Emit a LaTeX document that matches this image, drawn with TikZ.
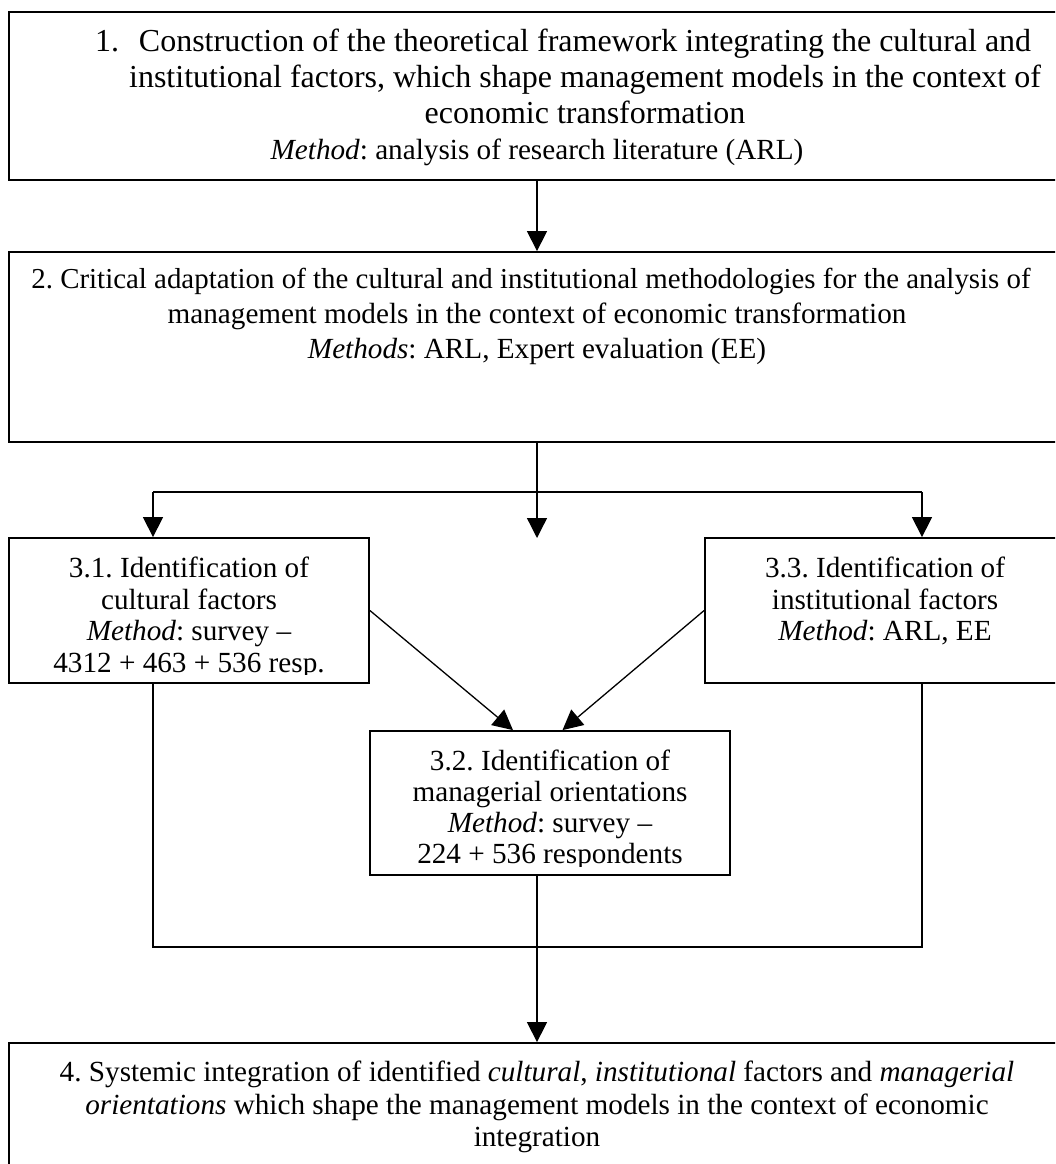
\documentclass[tikz,border=0pt]{standalone}
\usepackage{fontspec}
\setmainfont{Liberation Serif}
\usetikzlibrary{arrows.meta,fit}

\begin{document}
\frenchspacing
\begin{tikzpicture}[x=1pt,y=-1pt,
  box/.style={draw, line width=1.8pt, inner sep=0pt},
  txt/.style={inner sep=0pt, anchor=base, font=\fontsize{29.2}{34}\selectfont},
  bigtxt/.style={txt, font=\fontsize{32}{37}\selectfont},
  link/.style={line width=1.3pt},
  arr/.style={link, -{Triangle[length=20pt,width=20pt]}}
]
\useasboundingbox (0,0) rectangle (1055,1164);
\clip (0,0) rectangle (1055,1164);

% boxes
\node[box, fit={(9,12) (1065,180)}] (b1) {};
\node[box, fit={(9,252) (1065,442)}] (b2) {};
\node[box, fit={(9,538) (369,683)}] (b31) {};
\node[box, fit={(705,538) (1065,683)}] (b33) {};
\node[box, fit={(370,731) (730,875)}] (b32) {};
\node[box, fit={(9,1043) (1065,1200)}] (b4) {};

% step 1
\node[bigtxt, anchor=base west] (t1n) at (95,51.7) {1.};
\node[bigtxt] (t1a) at (585,51.7) {Construction of the theoretical framework integrating the cultural and};
\node[bigtxt] (t1b) at (585,87.7) {institutional factors, which shape management models in the context of};
\node[bigtxt] (t1c) at (585,123.6) {economic transformation};
\node[txt] (t1d) at (537,159.3) {\textit{Method}: analysis of research literature (ARL)};

% step 2
\node[txt, font=\fontsize{28.9}{34}\selectfont] (t2a) at (531,288.5) {2. Critical adaptation of the cultural and institutional methodologies for the analysis of};
\node[txt] (t2b) at (537,323.5) {management models in the context of economic transformation};
\node[txt] (t2c) at (537,358.5) {\textit{Methods}: ARL, Expert evaluation (EE)};

% step 3.1 (last line cut off by the text frame)
\begin{scope}
  \clip (9,538) rectangle (369,674);
  \node[txt] (t31a) at (189,577.5) {3.1. Identification of};
  \node[txt] (t31b) at (189,609) {cultural factors};
  \node[txt] (t31c) at (189,640.5) {\textit{Method}: survey –};
  \node[txt] (t31d) at (189,672) {4312 + 463 + 536 resp.};
\end{scope}

% step 3.3
\node[txt] (t33a) at (885,577.5) {3.3. Identification of};
\node[txt] (t33b) at (885,609) {institutional factors};
\node[txt] (t33c) at (885,640.5) {\textit{Method}: ARL, EE};

% step 3.2 (last line cut off by the text frame)
\begin{scope}
  \clip (370,731) rectangle (730,866);
  \node[txt] (t32a) at (550,770) {3.2. Identification of};
  \node[txt] (t32b) at (550,801) {managerial orientations};
  \node[txt] (t32c) at (550,832) {\textit{Method}: survey –};
  \node[txt] (t32d) at (550,863.5) {224 + 536 respondents};
\end{scope}

% step 4
\node[txt] (t4a) at (537,1081.7) {4. Systemic integration of identified \textit{cultural}, \textit{institutional} factors and \textit{managerial}};
\node[txt] (t4b) at (537,1114) {\textit{orientations} which shape the management models in the context of economic};
\node[txt] (t4c) at (537,1146.3) {integration};

% junction points
\coordinate (j) at (537,492);
\coordinate (jl) at (153,492);
\coordinate (jr) at (922,492);
\coordinate (jm) at (537,538);
\coordinate (bl) at (153,947);
\coordinate (br) at (922,947);

% connectors
\draw[arr] (b1.south) -- (b2.north);
\draw[arr] (b2.south) -- (jm);
\draw[link] (jl) -- (jr);
\draw[arr] (jl) -- (jl |- b31.north);
\draw[arr] (jr) -- (jr |- b33.north);
\draw[arr] (b31.east) -- ([xshift=-37pt]b32.north);
\draw[arr] (b33.west) -- ([xshift=12.5pt]b32.north);
\draw[link] (b31.south -| bl) -- (bl) -- (br) -- (b33.south -| br);
\draw[arr] (b32.south -| j) -- (b4.north -| j);
\end{tikzpicture}
\end{document}
